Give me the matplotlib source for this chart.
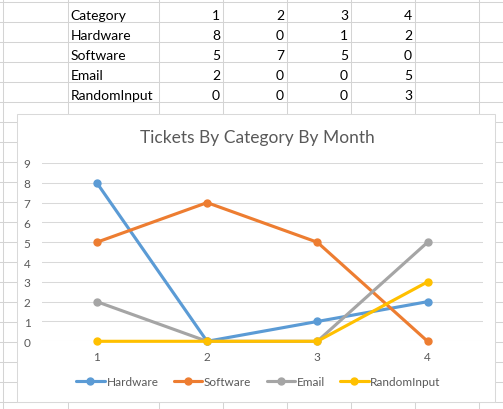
import matplotlib
matplotlib.use('Agg')
import matplotlib.pyplot as plt
from matplotlib.patches import Rectangle

# ------------------------------------------------------------
# data (as in the sheet)
# ------------------------------------------------------------
months = [1, 2, 3, 4]
hardware = [8, 0, 1, 2]
software = [5, 7, 5, 0]
email = [2, 0, 0, 5]
random_input = [0, 0, 0, 3]

series_names = ['Hardware', 'Software', 'Email', 'RandomInput']
series_vals = [hardware, software, email, random_input]
series_cols = ['#5B9BD5', '#ED7D31', '#A5A5A5', '#FFC000']

W, H = 503, 410
plt.rcParams['font.family'] = ['Lato', 'DejaVu Sans']

fig = plt.figure(figsize=(W / 100, H / 100), dpi=100)

# ------------------------------------------------------------
# spreadsheet background (pixel coords)
# ------------------------------------------------------------
bg = fig.add_axes([0, 0, 1, 1])
bg.set_xlim(0, W)
bg.set_ylim(H, 0)
bg.axis('off')

grid_c = '#D4D4D4'
col_x = [3.5, 67.7, 159.3, 223.3, 287.3, 351.3, 415.3, 479.3]
for cx in col_x:
    bg.axvline(cx, color=grid_c, lw=0.75)
for k in range(21):
    bg.axhline(3.3 + 20 * k, color=grid_c, lw=0.75)

# table text
num_right = [220, 284, 348, 412]
rows = [('Category', months)] + list(zip(series_names, series_vals))
for i, (name, vals) in enumerate(rows):
    yb = 19.5 + 20 * i
    bg.text(70.5, yb, name, fontsize=10, va='baseline', ha='left', color='black')
    for xr, v in zip(num_right, vals):
        bg.text(xr, yb, str(v), fontsize=10, va='baseline', ha='right', color='black')

# chart frame
bg.add_patch(Rectangle((17.3, 115), 495 - 17.3, 402.5 - 115,
                       facecolor='white', edgecolor='#D9D9D9', lw=0.75, zorder=5))
bg.text(257, 138, 'Tickets By Category By Month', fontsize=12.5, color='#595959',
        ha='center', va='center', zorder=6)

# ------------------------------------------------------------
# line chart
# ------------------------------------------------------------
x0, x1 = 41.7, 482.7
y0, y9 = 342.3, 164.0
ax = fig.add_axes([x0 / W, (H - y0) / H, (x1 - x0) / W, (y0 - y9) / H])
ax.set_facecolor('none')
ax.set_xlim(0.5, 4.5)
ax.set_ylim(0, 9)
ax.set_yticks(range(0, 10))
ax.set_xticks(months)
for s in ax.spines.values():
    s.set_visible(False)
ax.grid(axis='y', color='#D9D9D9', lw=0.75)
ax.set_axisbelow(True)
ax.tick_params(length=0, labelsize=8.5, labelcolor='#595959')
ax.tick_params(axis='y', pad=8)
ax.tick_params(axis='x', pad=7)

for name, vals, c in zip(series_names, series_vals, series_cols):
    ax.plot(months, vals, color=c, lw=2.25, marker='o', ms=5,
            label=name, clip_on=False, solid_capstyle='round')

ax.legend(loc='center', bbox_to_anchor=(258.5 / W, (H - 383) / H),
          bbox_transform=fig.transFigure, ncol=4, frameon=False,
          fontsize=8.5, labelcolor='#595959', handlelength=2.4,
          handletextpad=0.15, columnspacing=1.3, borderpad=0)

fig.savefig('out.png', dpi=100)
